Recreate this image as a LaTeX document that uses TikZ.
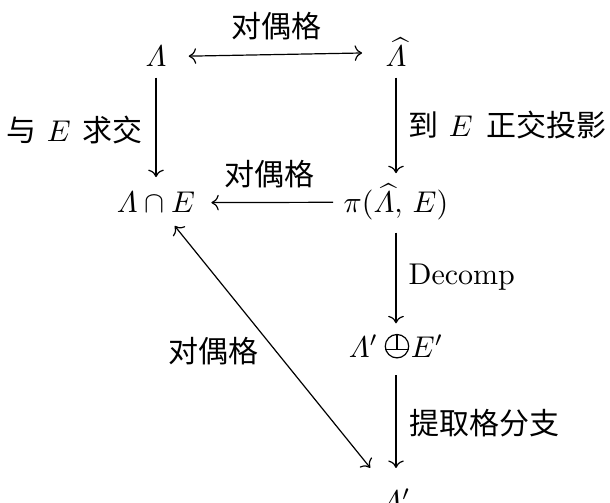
\documentclass[tikz,border=0pt]{standalone}
\usepackage{amsmath}
\usepackage[no-math]{fontspec}
\newfontfamily\cjk{Noto Sans CJK SC}
\usetikzlibrary{arrows.meta}
\newcommand{\vLam}{\mathchar"0103}
\newcommand{\operpsym}{\mathord{\tikz[baseline=0pt]{\draw[line width=0.4pt] (0pt,3.6pt) circle[radius=3.9pt]; \draw[line width=0.4pt] (-3.9pt,2.6pt) -- (3.9pt,2.6pt) (0pt,7.5pt) -- (0pt,2.6pt);}}}
\tikzset{
  obj/.style={anchor=base, inner sep=3.33pt},
  lab/.style={inner sep=0pt, font=\cjk},
  arr/.style={-{Computer Modern Rightarrow}, line width=0.4pt},
  darr/.style={{Computer Modern Rightarrow}-{Computer Modern Rightarrow}, line width=0.4pt}
}
\begin{document}
\begin{tikzpicture}[x=0.3333pt, y=-0.3333pt]
\useasboundingbox (0,0) rectangle (610,503);
\node[obj] (L) at (156,67) {$\vLam$};
\node[obj] (Lh) at (396,67) {$\widehat{\vLam}$};
\node[obj] (LE) at (156,213) {$\vLam\cap E$};
\node[obj] (P) at (396,213) {$\pi(\widehat{\vLam},\,E)$};
\node[obj] (S) at (396,357) {$\vLam'\mskip4mu\operpsym\mskip1mu E'$};
\node[obj] (B) at (396,511) {$\vLam'$};
\draw[darr, shorten <=3.9pt, shorten >=4.3pt] (L) -- node[lab, above=4.7pt] {对偶格} (Lh);
\draw[arr, shorten >=1.6pt] (L) -- node[lab, left=4.4pt] {与\hspace{3.4pt}$E$\hspace{3.8pt}求交} (LE);
\draw[arr] (Lh) -- node[lab, right=4pt] {到\hspace{3.4pt}$E$\hspace{4.5pt}正交投影} (P);
\draw[arr, shorten >=1.9pt] (P) -- node[lab, above=4.7pt] {对偶格} (LE);
\draw[arr, shorten <=0.5pt] (P) -- node[lab, right=4pt, font=\normalfont] {Decomp} (S);
\draw[arr, shorten <=2pt, shorten >=3.3pt] (S) -- node[lab, right=4.4pt] {提取格分支} (B);
\draw[darr, shorten <=1pt, shorten >=4.3pt] (LE) -- node[lab, left=5.4pt] {对偶格} (B);
\end{tikzpicture}
\end{document}
